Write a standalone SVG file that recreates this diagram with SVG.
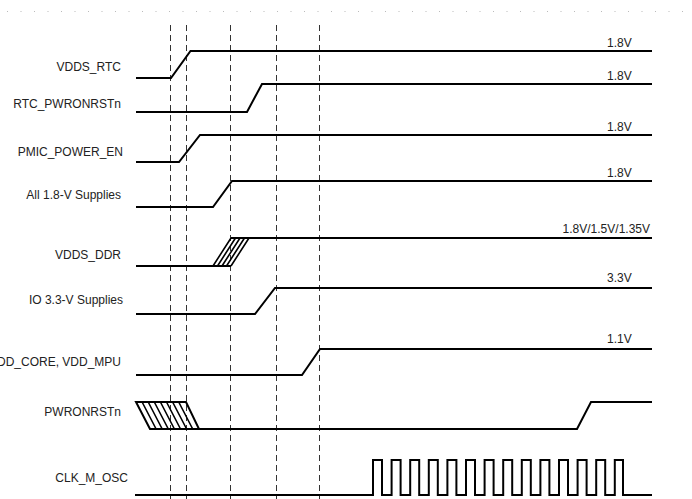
<svg xmlns="http://www.w3.org/2000/svg" width="692" height="499" viewBox="0 0 692 499">
<style>
.lbl{font-family:"Liberation Sans",Arial,sans-serif;font-size:12px;fill:#222;text-anchor:end}
.val{font-family:"Liberation Sans",Arial,sans-serif;font-size:12px;fill:#222}
.sig{fill:none;stroke:#000;stroke-width:2;stroke-linejoin:miter}
.hat{fill:none;stroke:#000;stroke-width:1.6}
.guide{stroke:#333;stroke-width:1;stroke-dasharray:6,4;fill:none}
</style>
<rect width="692" height="499" fill="#fff"/>
<line x1="7" y1="11.5" x2="690" y2="11.5" stroke="#bbb" stroke-width="1" stroke-dasharray="1,12.5"/>
<g id="guides">
<line class="guide" x1="170.5" y1="25" x2="170.5" y2="499"/>
<line class="guide" x1="186.5" y1="25" x2="186.5" y2="499" stroke-width="1.6" stroke="#555"/>
<line class="guide" x1="230.5" y1="25" x2="230.5" y2="499"/>
<line class="guide" x1="276.5" y1="25" x2="276.5" y2="499"/>
<line class="guide" x1="319.5" y1="25" x2="319.5" y2="499" stroke-width="1.6" stroke="#555"/>
</g>
<g id="vdds_rtc">
<text class="lbl" x="121" y="71">VDDS_RTC</text>
<polyline class="sig" points="136,78 171,78 190.5,51 652,51"/>
<text class="val" x="607" y="47">1.8V</text>
</g>
<g id="rtc_pwronrstn">
<text class="lbl" x="121" y="108">RTC_PWRONRSTn</text>
<polyline class="sig" points="136,112 247,112 262,84 652,84"/>
<text class="val" x="607" y="80">1.8V</text>
</g>
<g id="pmic_power_en">
<text class="lbl" x="123" y="156">PMIC_POWER_EN</text>
<polyline class="sig" points="136,162 179,162 200,135 652,135"/>
<text class="val" x="607" y="131">1.8V</text>
</g>
<g id="all_18v">
<text class="lbl" x="121" y="199">All 1.8-V Supplies</text>
<polyline class="sig" points="136,207 213,207 232,181 652,181"/>
<text class="val" x="607" y="177">1.8V</text>
</g>
<g id="vdds_ddr">
<text class="lbl" x="121" y="259">VDDS_DDR</text>
<polyline class="sig" points="136,266 231,266"/>
<polyline class="sig" points="231,238 652,238"/>
<path class="hat" d="M213,266 L231,238 M217.5,266 L235.5,238 M222,266 L240,238 M226.5,266 L244.5,238 M231,266 L249,238"/>
<text class="val" x="650" y="233" style="text-anchor:end">1.8V/1.5V/1.35V</text>
</g>
<g id="io_33v">
<text class="lbl" x="123" y="304">IO 3.3-V Supplies</text>
<polyline class="sig" points="136,314 255,314 275,288 652,288"/>
<text class="val" x="607" y="282">3.3V</text>
</g>
<g id="vdd_core">
<text class="lbl" x="121" y="366">VDD_CORE, VDD_MPU</text>
<polyline class="sig" points="136,375 302,375 320,349 652,349"/>
<text class="val" x="607" y="343">1.1V</text>
</g>
<g id="pwronrstn">
<text class="lbl" x="121" y="416">PWRONRSTn</text>
<polygon class="sig" points="136,402 186,402 199,429 150,429"/>
<path class="hat" d="M142.1,402 L156.1,429 M148.2,402 L162.2,429 M154.3,402 L168.3,429 M160.4,402 L174.4,429 M166.5,402 L180.5,429 M172.6,402 L186.6,429 M178.7,402 L192.7,429"/>
<polyline class="sig" points="199,429 577,429 591,402 652,402"/>
</g>
<g id="clk_m_osc">
<text class="lbl" x="128" y="482">CLK_M_OSC</text>
<polyline class="sig" stroke-width="2.5" points="135,495 373,495 373,460 382,460 382,495 391.6,495 391.6,460 400.6,460 400.6,495 410.2,495 410.2,460 419.2,460 419.2,495 428.8,495 428.8,460 437.8,460 437.8,495 447.4,495 447.4,460 456.4,460 456.4,495 466,495 466,460 475,460 475,495 484.6,495 484.6,460 493.6,460 493.6,495 503.2,495 503.2,460 512.2,460 512.2,495 521.8,495 521.8,460 530.8,460 530.8,495 540.4,495 540.4,460 549.4,460 549.4,495 559,495 559,460 568,460 568,495 577.6,495 577.6,460 586.6,460 586.6,495 596.2,495 596.2,460 605.2,460 605.2,495 614.8,495 614.8,460 623,460 623,495 652,495"/>
</g>
</svg>
